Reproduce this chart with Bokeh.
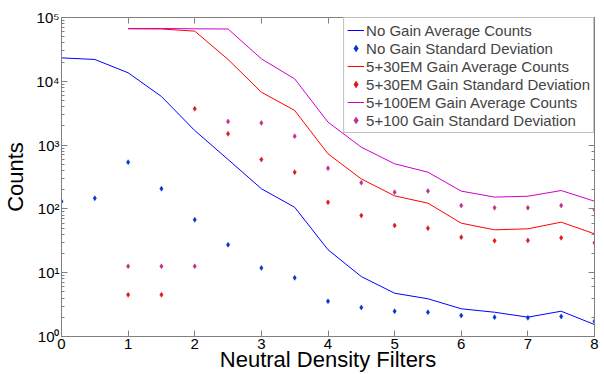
from bokeh.plotting import figure
from bokeh.models import (FixedTicker, LinearAxis, LogAxis, Legend, LegendItem,
                          CustomJSTickFormatter, Range1d, LogTicker)
from bokeh.embed import file_html
from bokeh.resources import INLINE

# ---- data ----
x_nogain = [0, 0.5, 1, 1.5, 2, 2.5, 3, 3.5, 4, 4.5, 5, 5.5, 6, 6.5, 7, 7.5, 8]
nogain_avg = [23300, 22000, 13600, 5780, 1690, 595, 207, 106, 22.9, 8.7, 4.77, 3.90, 2.72, 2.40, 2.01, 2.49, 1.54]
nogain_std = [131, 147, 540, 207, 67.5, 27.4, 11.9, 8.3, 3.57, 2.85, 2.49, 2.40, 2.13, 2.01, 1.96, 2.06, 1.74]

x_em = [1, 1.5, 2, 2.5, 3, 3.5, 4, 4.5, 5, 5.5, 6, 6.5, 7, 7.5, 8]
em30_avg = [66500, 66000, 61100, 22000, 6750, 3490, 730, 295, 160, 123, 59.7, 47, 48.7, 62, 40.7]
em30_std = [4.5, 4.5, 3710, 1500, 595, 376, 127, 78.8, 55, 49.9, 36, 31.6, 32, 35.2, 29.4]
em100_avg = [67300, 67300, 66500, 66000, 22500, 10900, 2290, 927, 509, 376, 190, 153, 158, 194, 132]
em100_std = [12.6, 12.6, 12.6, 2340, 2230, 1380, 434, 257, 183, 190, 113, 104, 104, 113, 97]

x_ticks = [0, 1, 2, 3, 4, 5, 6, 7, 8]
y_tick_values = [1, 10, 100, 1000, 10000, 100000]
y_tick_labels = ["10\u2070", "10\u00b9", "10\u00b2", "10\u00b3", "10\u2074", "10\u2075"]

labels = ["No Gain Average Counts", "No Gain Standard Deviation",
          "5+30EM Gain Average Counts", "5+30EM Gain Standard Deviation",
          "5+100EM Gain Average Counts", "5+100 Gain Standard Deviation"]

FONT = "Liberation Sans"
GREY = "#808080"

p = figure(width=604, height=374, y_axis_type="log",
           x_range=Range1d(0, 8), y_range=Range1d(1, 1e5),
           output_backend="svg", toolbar_location=None,
           min_border_left=60, min_border_right=10, min_border_top=17, min_border_bottom=38,
           background_fill_color="white", border_fill_color="white")
p.grid.visible = False
p.outline_line_color = GREY

def style(ax):
    ax.axis_line_color = GREY
    ax.major_tick_line_color = GREY
    ax.minor_tick_line_color = GREY
    ax.major_tick_in = 6
    ax.major_tick_out = 0
    ax.minor_tick_in = 3
    ax.minor_tick_out = 0
    ax.major_label_text_font = FONT
    ax.major_label_text_color = "black"
    ax.axis_label_text_font = FONT
    ax.axis_label_text_font_style = "normal"
    ax.axis_label_text_color = "black"

xa = p.xaxis[0]
style(xa)
xa.ticker = FixedTicker(ticks=x_ticks)
xa.minor_tick_line_color = None
xa.major_label_text_font_size = "15px"
xa.major_label_standoff = 2
xa.axis_label = "Neutral Density Filters"
xa.axis_label_text_font_size = "22px"
xa.axis_label_standoff = -5

ya = p.yaxis[0]
style(ya)
ya.formatter = CustomJSTickFormatter(args=dict(vals=y_tick_values, labs=y_tick_labels), code="""
const i = vals.findIndex(v => Math.abs(Math.log10(v) - Math.log10(tick)) < 1e-6);
return i >= 0 ? labs[i] : '';
""")
ya.major_label_text_font_size = "15px"
ya.major_label_standoff = 2
ya.axis_label = "Counts"
ya.axis_label_text_font_size = "22px"
ya.axis_label_standoff = 5

blank = CustomJSTickFormatter(code="return '';")

top = LinearAxis(ticker=FixedTicker(ticks=x_ticks), formatter=blank)
style(top)
top.minor_tick_line_color = None
top.major_label_text_font_size = "10px"
top.major_label_standoff = 0
p.add_layout(top, "above")

right = LogAxis(ticker=LogTicker(), formatter=CustomJSTickFormatter(code="return '';"))
style(right)
right.major_label_text_font_size = "10px"
right.major_label_standoff = 0
p.add_layout(right, "right")

r1 = p.line(x_nogain, nogain_avg, line_color="#0000ff", line_width=1)
r2 = p.scatter(x_nogain, nogain_std, marker="diamond", size=5,
               fill_color="#0033cc", line_color="#0033cc", line_width=0.5)
r3 = p.line(x_em, em30_avg, line_color="#ff0000", line_width=1)
r4 = p.scatter(x_em, em30_std, marker="diamond", size=5,
               fill_color="#ee1111", line_color="#bb2222", line_width=0.5)
r5 = p.line(x_em, em100_avg, line_color="#cc00cc", line_width=1)
r6 = p.scatter(x_em, em100_std, marker="diamond", size=5,
               fill_color="#cc22aa", line_color="#b04060", line_width=0.5)

items = [LegendItem(label=l, renderers=[r]) for l, r in zip(labels, [r1, r2, r3, r4, r5, r6])]
legend = Legend(items=items, location="top_right", margin=0, padding=3, spacing=0,
                label_height=18, glyph_height=18, glyph_width=17, label_standoff=2,
                label_text_font=FONT, label_text_font_size="15px",
                border_line_color=GREY, border_line_width=1,
                background_fill_color="white", background_fill_alpha=1)
p.add_layout(legend)

open("out.html", "w").write(file_html(p, INLINE))
